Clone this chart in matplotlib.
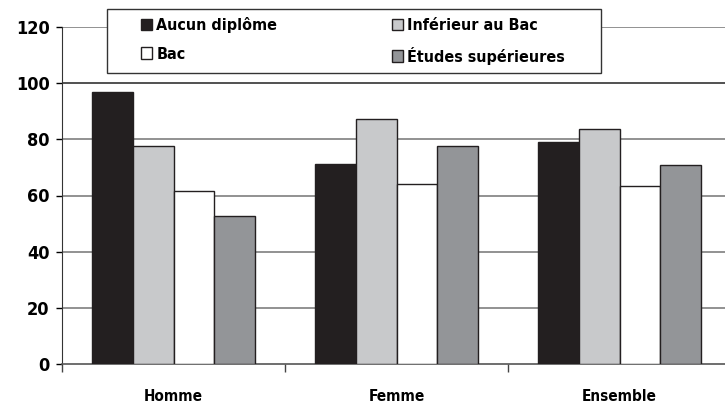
"""
Bar chart: values by sex and diploma level
"""

import matplotlib.pyplot as plt
from matplotlib.patches import Rectangle
import numpy as np

categories = ['Homme', 'Femme', 'Ensemble']
series = ['Aucun diplôme', 'Inférieur au Bac', 'Bac', 'Études supérieures']
aucun = [96.7, 71.1, 78.9]
inferieur = [77.7, 87.2, 83.6]
bac = [61.7, 64.0, 63.3]
superieur = [52.6, 77.7, 70.8]
yticks = [0, 20, 40, 60, 80, 100, 120]

colors = ['#231f20', '#c8c9cb', '#ffffff', '#939598']


def main():

    plt.rcParams['font.family'] = ['DejaVu Sans']
    plt.rcParams['font.weight'] = 'bold'
    plt.rcParams['font.stretch'] = 'condensed'

    fig = plt.figure(figsize=(7.25, 4.05), dpi=100)
    W, H = 725, 405
    ax = fig.add_axes([62 / W, (H - 364) / H, (725 - 62) / W, (364 - 27) / H])

    x = np.arange(len(categories))
    w = 0.183
    values = [aucun, inferieur, bac, superieur]
    bars = []
    for i, (name, vals) in enumerate(zip(series, values)):
        b = ax.bar(x + (i - 1.5) * w, vals, width=w, color=colors[i],
                   edgecolor='#231f20', linewidth=1.0, label=name, zorder=3)
        bars.append(b)

    ax.set_xlim(-0.5, -0.5 + 663 / 223)
    ax.set_ylim(0, 120)

    # gridlines behind bars
    for yv in yticks[1:]:
        ax.axhline(yv, color='#7f7f7f' if yv != 100 else '#333333',
                   linewidth=1.2, zorder=1)

    ax.set_yticks(yticks)
    ax.set_yticklabels([str(v) for v in yticks], fontsize=13)
    ax.tick_params(axis='y', length=4, width=1, pad=5, direction='out')

    # category labels between boundary ticks
    ax.set_xticks([-0.5, 0.5, 1.5])
    ax.set_xticklabels([])
    ax.tick_params(axis='x', length=6, width=1, direction='out', color='#444444')
    ax.set_xticks(x, minor=True)
    ax.set_xticklabels(categories, minor=True, fontsize=11)
    ax.tick_params(axis='x', which='minor', length=0, pad=18)

    for s in ['top', 'right']:
        ax.spines[s].set_visible(False)
    ax.spines['left'].set_color('#333333')
    ax.spines['bottom'].set_color('#555555')
    ax.spines['bottom'].set_linewidth(1.2)

    # legend frame drawn as a separate box
    box = Rectangle((107 / W, 1 - 73 / H), (601 - 107) / W, (73 - 9) / H,
                    transform=fig.transFigure, facecolor='white',
                    edgecolor='#333333', linewidth=1.0, zorder=2)
    fig.patches.append(box)

    # row-wise order: Aucun, Inférieur / Bac, Études
    order = [0, 2, 1, 3]
    leg = fig.legend([bars[i] for i in order], [series[i] for i in order],
                     loc='upper left', bbox_to_anchor=(141 / W, 1 - 17 / H),
                     ncol=2, fontsize=11.5, frameon=False,
                     handlelength=0.7, handleheight=0.7, handletextpad=0.25,
                     columnspacing=7.2, borderpad=0, labelspacing=0.85,
                     borderaxespad=0)
    leg.set_zorder(3)
    for t in leg.get_texts():
        t.set_fontweight('bold')

    fig.savefig('out.png', dpi=100)
    plt.close()


if __name__ == '__main__':
    main()
